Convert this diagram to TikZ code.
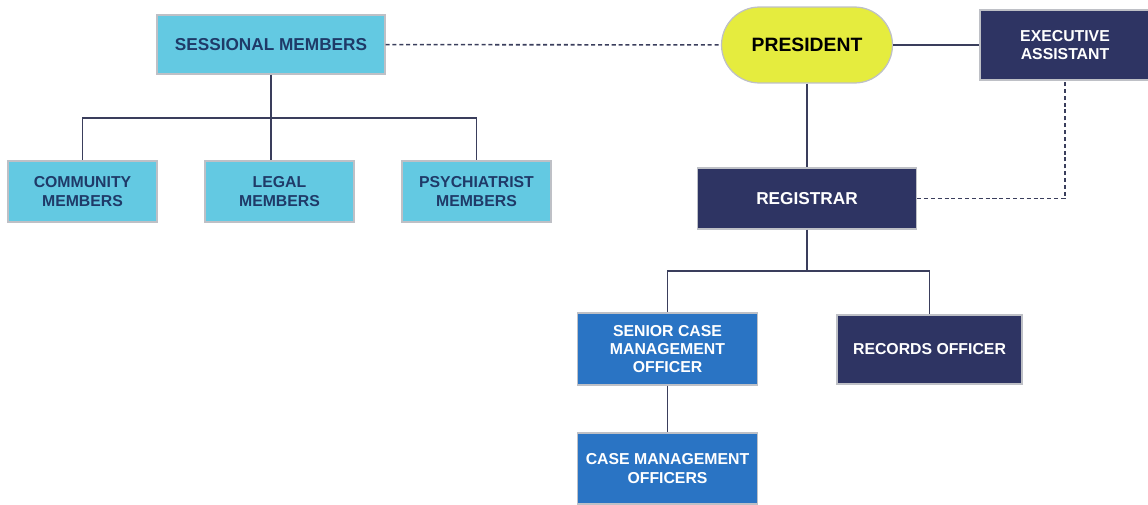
\documentclass[tikz,border=0pt]{standalone}
\usepackage{fontspec}
\setmainfont{Liberation Sans}
\usetikzlibrary{positioning, calc}
\definecolor{colorLight}{RGB}{99, 201, 226}
\definecolor{colorDark}{RGB}{46, 52, 99}
\definecolor{colorBlue}{RGB}{42, 116, 196}
\definecolor{colorPres}{RGB}{229, 236, 62}
\definecolor{colorNavyText}{RGB}{31, 58, 104}
\definecolor{colorEdge}{RGB}{190, 192, 198}
\definecolor{colorLine}{RGB}{58, 62, 92}
\tikzstyle{lightbox} = [rectangle, align=center, text=colorNavyText, draw=colorEdge, line width=0.7pt, fill=colorLight]
\tikzstyle{darkbox} = [rectangle, align=center, text=white, draw=colorEdge, line width=0.7pt, fill=colorDark]
\tikzstyle{bluebox} = [rectangle, align=center, text=white, draw=colorEdge, line width=0.7pt, fill=colorBlue]
\tikzstyle{presbox} = [rectangle, rounded corners=0.76cm, align=center, text=black, draw=colorEdge, line width=0.7pt, fill=colorPres]
\tikzstyle{line} = [draw=colorLine, line width=0.9pt]
\tikzstyle{dashline} = [draw=colorLine, line width=0.9pt, dash pattern=on 2.3pt off 1.6pt]

\begin{document}
\begin{tikzpicture}[x=0.02cm, y=-0.02cm, every node/.style={font=\bfseries\fontsize{9}{10.5}\selectfont}]

	\useasboundingbox (0,0) rectangle (1148,504);

	% top row
	\node (sessional)[lightbox, minimum width=4.56cm, minimum height=1.18cm] at (271,44.5) {\fontsize{9.8}{11}\selectfont SESSIONAL MEMBERS};
	\node (president)[presbox, minimum width=3.42cm, minimum height=1.52cm] at (807,45) {\fontsize{11}{12}\selectfont PRESIDENT};
	\node (assistant)[darkbox, minimum width=3.4cm, minimum height=1.4cm] at (1065,45) {EXECUTIVE\\ASSISTANT};

	% members
	\node (community)[lightbox, minimum width=2.98cm, minimum height=1.22cm] at (82.5,191.5) {COMMUNITY\\MEMBERS};
	\node (legal)[lightbox, minimum width=2.98cm, minimum height=1.22cm] at (279.5,191.5) {LEGAL\\MEMBERS};
	\node (psychiatrist)[lightbox, minimum width=2.98cm, minimum height=1.22cm] at (476.5,191.5) {PSYCHIATRIST\\MEMBERS};

	% registry
	\node (registrar)[darkbox, minimum width=4.38cm, minimum height=1.22cm] at (807,198.5) {\fontsize{9.8}{11}\selectfont REGISTRAR};
	\node (senior)[bluebox, minimum width=3.6cm, minimum height=1.44cm] at (667.5,349) {SENIOR CASE\\MANAGEMENT\\OFFICER};
	\node (records)[darkbox, minimum width=3.7cm, minimum height=1.38cm] at (929.5,349.5) {RECORDS OFFICER};
	\node (caseOfficers)[bluebox, minimum width=3.6cm, minimum height=1.42cm] at (667.5,468.5) {CASE MANAGEMENT\\OFFICERS};

	% bus points
	\coordinate (busSessional) at (271,118);
	\coordinate (busRegistrar) at (807,271);

	% lines
	\draw[dashline] (sessional) -- (president);
	\draw[line] (president) -- (assistant);
	\draw[line] (president) -- (registrar);
	\draw[dashline] (registrar) -| (assistant);

	\draw[line] (sessional) -- (busSessional);
	\draw[line] (busSessional) -| (community);
	\draw[line] (busSessional) -- (busSessional |- legal.north);
	\draw[line] (busSessional) -| (psychiatrist);

	\draw[line] (registrar) -- (busRegistrar);
	\draw[line] (busRegistrar) -| (senior);
	\draw[line] (busRegistrar) -| (records);
	\draw[line] (senior) -- (caseOfficers);

\end{tikzpicture}
\end{document}
